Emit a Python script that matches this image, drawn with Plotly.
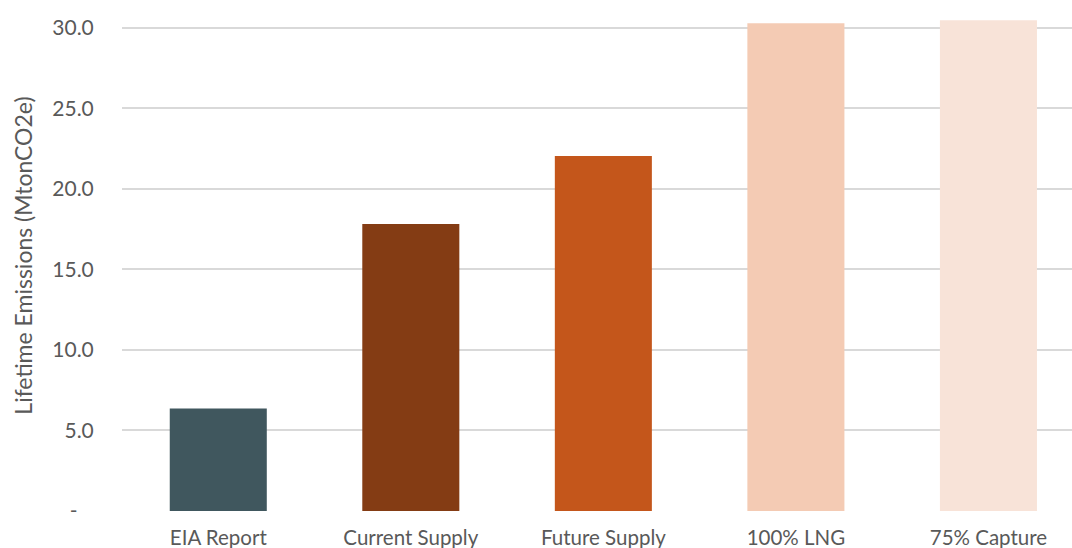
import plotly.graph_objects as go

categories = ["EIA Report", "Current Supply", "Future Supply", "100% LNG", "75% Capture"]
emissions = [6.37, 17.81, 22.03, 30.28, 30.47]
bar_colors = ["#40575E", "#843C14", "#C4561B", "#F4CBB4", "#F8E3D8"]
tick_vals = [0, 5, 10, 15, 20, 25, 30]
tick_text = ["-\u00a0\u00a0\u00a0", "5.0", "10.0", "15.0", "20.0", "25.0", "30.0"]

font_family = "Lato, 'DejaVu Sans', sans-serif"
fig = go.Figure(go.Bar(
    x=list(range(len(categories))),
    y=emissions,
    marker=dict(color=bar_colors, line=dict(width=0)),
))

fig.update_layout(
    width=1072, height=548,
    margin=dict(l=122, r=0, t=0, b=37),
    plot_bgcolor="white", paper_bgcolor="white",
    bargap=0.496,
    showlegend=False,
    font=dict(family=font_family, color="#595959", size=20),
    xaxis=dict(
        tickmode="array", tickvals=list(range(len(categories))), ticktext=categories,
        range=[-0.5, 4.434], showgrid=False, zeroline=False, showline=False,
        ticks="outside", ticklen=8, tickcolor="rgba(0,0,0,0)",
        tickfont=dict(size=20.5, color="#595959"),
    ),
    yaxis=dict(
        range=[0, 31.72], tickmode="array", tickvals=tick_vals, ticktext=tick_text,
        showgrid=True, gridcolor="#D9D9D9", gridwidth=1.5, zeroline=False,
        showline=False, ticks="outside", ticklen=23, tickcolor="rgba(0,0,0,0)",
        tickfont=dict(size=21, color="#595959"),
        title=dict(text="Lifetime Emissions (MtonCO2e)", font=dict(size=23, color="#595959"), standoff=13),
    ),
)

fig.write_html("out.html")
